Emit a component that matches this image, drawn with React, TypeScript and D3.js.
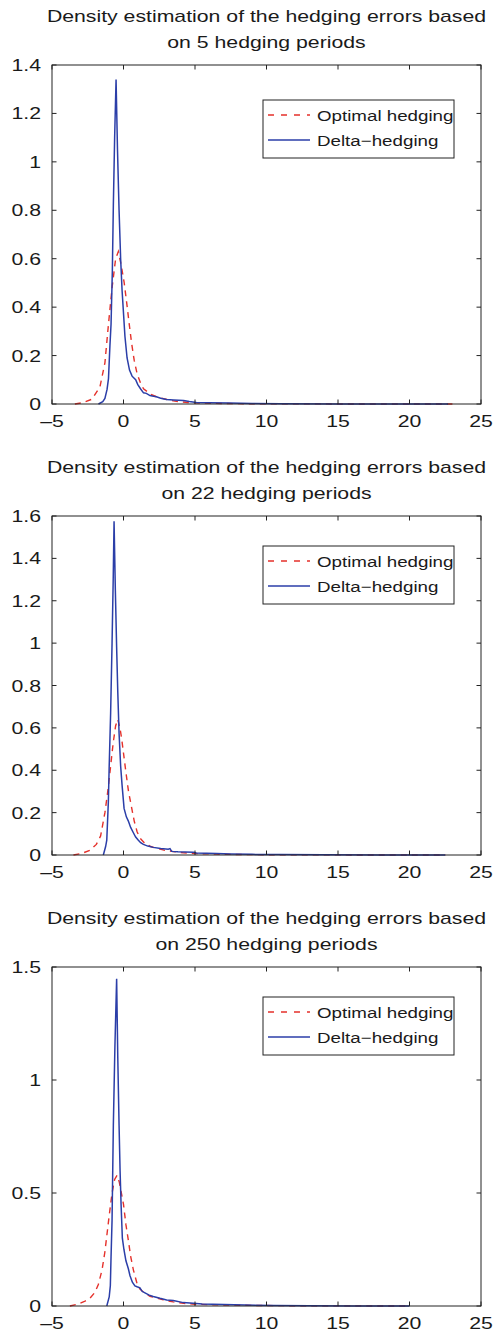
import React from 'react'
import * as d3 from 'd3'

// ---- data (x = hedging error, y = density) ----
const periods = [5, 22, 250]
const yMaxes = [1.4, 1.6, 1.5]
const yTickSteps = [0.2, 0.2, 0.5]
const xTicks = [-5, 0, 5, 10, 15, 20, 25]
const legendLabels = ['Optimal hedging', 'Delta\u2212hedging']

const optimal5 = [[-3.4, 0], [-2.8, 0.006], [-2.2, 0.02], [-1.65, 0.07], [-1.3, 0.17], [-1.05, 0.33], [-0.8, 0.48], [-0.55, 0.6], [-0.36, 0.63], [-0.15, 0.57], [0.05, 0.5], [0.22, 0.42], [0.4, 0.33], [0.57, 0.25], [0.75, 0.18], [0.95, 0.125], [1.2, 0.085], [1.4, 0.063], [1.85, 0.042], [2.3, 0.03], [2.8, 0.022], [3.3, 0.015], [3.8, 0.01], [4.5, 0.006], [5.5, 0.004], [7, 0.002], [9, 0.001], [12, 0.0005], [16, 0.0002], [20, 0.0001], [23, 0]]
const delta5 = [[-1.75, 0], [-1.45, 0.01], [-1.3, 0.023], [-1.15, 0.06], [-1.05, 0.105], [-0.95, 0.24], [-0.87, 0.33], [-0.78, 0.55], [-0.71, 0.82], [-0.62, 1.1], [-0.52, 1.34], [-0.42, 1.05], [-0.31, 0.8], [-0.2, 0.6], [-0.1, 0.47], [0.1, 0.28], [0.25, 0.19], [0.42, 0.14], [0.6, 0.115], [0.85, 0.1], [1.0, 0.08], [1.2, 0.062], [1.4, 0.046], [1.6, 0.044], [1.85, 0.035], [2.1, 0.032], [2.3, 0.03], [2.6, 0.024], [3.0, 0.019], [3.5, 0.017], [4.2, 0.014], [4.6, 0.01], [5.1, 0.006], [6, 0.005], [7.4, 0.004], [9, 0.002], [11, 0.001], [15, 0.0005], [20, 0.0002], [22.7, 0]]

const optimal22 = [[-3.5, 0], [-2.9, 0.008], [-2.34, 0.022], [-1.9, 0.05], [-1.6, 0.09], [-1.3, 0.2], [-1.1, 0.3], [-0.9, 0.42], [-0.72, 0.53], [-0.55, 0.61], [-0.4, 0.64], [-0.25, 0.6], [-0.13, 0.55], [0.02, 0.47], [0.17, 0.39], [0.35, 0.3], [0.55, 0.23], [0.75, 0.16], [0.95, 0.11], [1.15, 0.08], [1.45, 0.058], [1.9, 0.04], [2.3, 0.032], [2.9, 0.022], [3.5, 0.016], [4.2, 0.01], [5, 0.007], [6.5, 0.004], [8.5, 0.002], [11, 0.001], [15, 0.0004], [20, 0.0001], [22.5, 0]]
const delta22 = [[-1.41, 0], [-1.25, 0.04], [-1.17, 0.07], [-1.06, 0.25], [-1.0, 0.42], [-0.9, 0.67], [-0.8, 1.0], [-0.72, 1.3], [-0.66, 1.575], [-0.57, 1.25], [-0.48, 0.98], [-0.4, 0.77], [-0.31, 0.575], [-0.2, 0.42], [-0.1, 0.33], [0.04, 0.22], [0.2, 0.18], [0.34, 0.16], [0.5, 0.13], [0.69, 0.105], [0.85, 0.085], [1.04, 0.07], [1.2, 0.058], [1.39, 0.05], [1.7, 0.042], [2.08, 0.036], [2.6, 0.031], [3.13, 0.027], [3.25, 0.03], [3.37, 0.017], [3.8, 0.015], [4.3, 0.014], [4.88, 0.013], [5.1, 0.009], [5.8, 0.008], [6.5, 0.007], [7.5, 0.005], [9, 0.003], [11, 0.002], [14, 0.001], [18, 0.0005], [22.5, 0]]

const optimal250 = [[-3.75, 0], [-3.2, 0.008], [-2.69, 0.022], [-2.34, 0.035], [-2.0, 0.06], [-1.76, 0.095], [-1.5, 0.16], [-1.3, 0.24], [-1.0, 0.4], [-0.8, 0.5], [-0.62, 0.56], [-0.45, 0.578], [-0.3, 0.55], [-0.15, 0.5], [0.0, 0.45], [0.17, 0.36], [0.34, 0.29], [0.5, 0.22], [0.69, 0.16], [0.92, 0.105], [1.15, 0.075], [1.39, 0.062], [1.85, 0.043], [2.32, 0.035], [2.78, 0.027], [3.48, 0.018], [4.2, 0.012], [5, 0.008], [6.5, 0.005], [8.5, 0.003], [11, 0.0015], [15, 0.0006], [20, 0]]
const delta250 = [[-1.17, 0], [-1.0, 0.04], [-0.92, 0.09], [-0.87, 0.22], [-0.8, 0.38], [-0.71, 0.8], [-0.6, 1.15], [-0.48, 1.448], [-0.4, 1.1], [-0.31, 0.8], [-0.24, 0.6], [-0.17, 0.45], [-0.08, 0.3], [0.03, 0.25], [0.17, 0.2], [0.34, 0.165], [0.45, 0.135], [0.62, 0.105], [0.8, 0.089], [0.95, 0.085], [1.15, 0.08], [1.3, 0.065], [1.5, 0.058], [1.8, 0.048], [2.08, 0.042], [2.55, 0.034], [3.02, 0.027], [3.48, 0.024], [4.18, 0.015], [4.88, 0.012], [5.5, 0.009], [7, 0.007], [8.5, 0.004], [10.5, 0.002], [13, 0.001], [16, 0.0005], [20, 0]]

const optimalSeries = [optimal5, optimal22, optimal250]
const deltaSeries = [delta5, delta22, delta250]

const W = 499
const H = 1333
const LEFT = 52
const RIGHT = 481
const PANEL_TOPS = [65, 516, 967]
const PANEL_H = 339
const LEGEND_OFFSETS = [35, 30, 30]
const RED = '#e5312b'
const BLUE = '#2b3ea8'
const FONT = '"Liberation Sans", Arial, Helvetica, sans-serif'
const SX = 1.25 // the scan is stretched horizontally

function SText({ x, y, size, anchor = 'start', children }) {
  return (
    <text
      transform={`translate(${x},${y}) scale(${SX},1)`}
      fontSize={size}
      fontFamily={FONT}
      textAnchor={anchor}
      fill="#1a1a1a"
    >
      {children}
    </text>
  )
}

function fmtY(v) {
  const r = Math.round(v * 10) / 10
  return r === 0 ? '0' : String(r)
}

function fmtX(v) {
  return v < 0 ? '\u2013' + Math.abs(v) : String(v)
}

function Panel({ idx }) {
  const top = PANEL_TOPS[idx]
  const bottom = top + PANEL_H
  const x = d3.scaleLinear().domain([-5, 25]).range([LEFT, RIGHT])
  const y = d3.scaleLinear().domain([0, yMaxes[idx]]).range([bottom, top])
  const line = d3.line().x(d => x(d[0])).y(d => y(d[1]))
  const yTicks = d3.range(0, yMaxes[idx] + 1e-9, yTickSteps[idx])
  const tl = 4.5
  const lg = { x: 263, y: top + LEGEND_OFFSETS[idx], w: 191, h: 58 }

  return (
    <g>
      <SText x={(LEFT + RIGHT) / 2} y={top - 43.5} size={17} anchor="middle">
        Density estimation of the hedging errors based
      </SText>
      <SText x={(LEFT + RIGHT) / 2} y={top - 17.5} size={17} anchor="middle">
        {`on ${periods[idx]} hedging periods`}
      </SText>

      <path d={line(optimalSeries[idx])} fill="none" stroke={RED} strokeWidth={1.4} strokeDasharray="6,5" />
      <path d={line(deltaSeries[idx])} fill="none" stroke={BLUE} strokeWidth={1.5} />

      <rect x={LEFT} y={top} width={RIGHT - LEFT} height={PANEL_H} fill="none" stroke="#222" strokeWidth={1} />

      {xTicks.map(t => (
        <g key={'x' + t}>
          <line x1={x(t)} x2={x(t)} y1={bottom} y2={bottom - tl} stroke="#222" />
          <line x1={x(t)} x2={x(t)} y1={top} y2={top + tl} stroke="#222" />
          <SText x={x(t)} y={bottom + 22.5} size={17} anchor="middle">{fmtX(t)}</SText>
        </g>
      ))}
      {yTicks.map(t => (
        <g key={'y' + t}>
          <line x1={LEFT} x2={LEFT + tl} y1={y(t)} y2={y(t)} stroke="#222" />
          <line x1={RIGHT} x2={RIGHT - tl} y1={y(t)} y2={y(t)} stroke="#222" />
          <SText x={41} y={y(t) + 6} size={17} anchor="end">{fmtY(t)}</SText>
        </g>
      ))}

      <rect x={lg.x} y={lg.y} width={lg.w} height={lg.h} fill="#fff" stroke="#222" strokeWidth={1} />
      <line x1={lg.x + 5} x2={lg.x + 47} y1={lg.y + 15} y2={lg.y + 15} stroke={RED} strokeWidth={1.4} strokeDasharray="6,7" />
      <line x1={lg.x + 5} x2={lg.x + 47} y1={lg.y + 40} y2={lg.y + 40} stroke={BLUE} strokeWidth={1.5} />
      <SText x={lg.x + 54} y={lg.y + 20.5} size={15}>{legendLabels[0]}</SText>
      <SText x={lg.x + 54} y={lg.y + 45.5} size={15}>{legendLabels[1]}</SText>
    </g>
  )
}

export default function App() {
  return (
    <svg
      width={W}
      height={H}
      style={{ position: 'absolute', left: 0, top: 0, background: '#fff' }}
    >
      {periods.map((p, i) => <Panel key={p} idx={i} />)}
    </svg>
  )
}
